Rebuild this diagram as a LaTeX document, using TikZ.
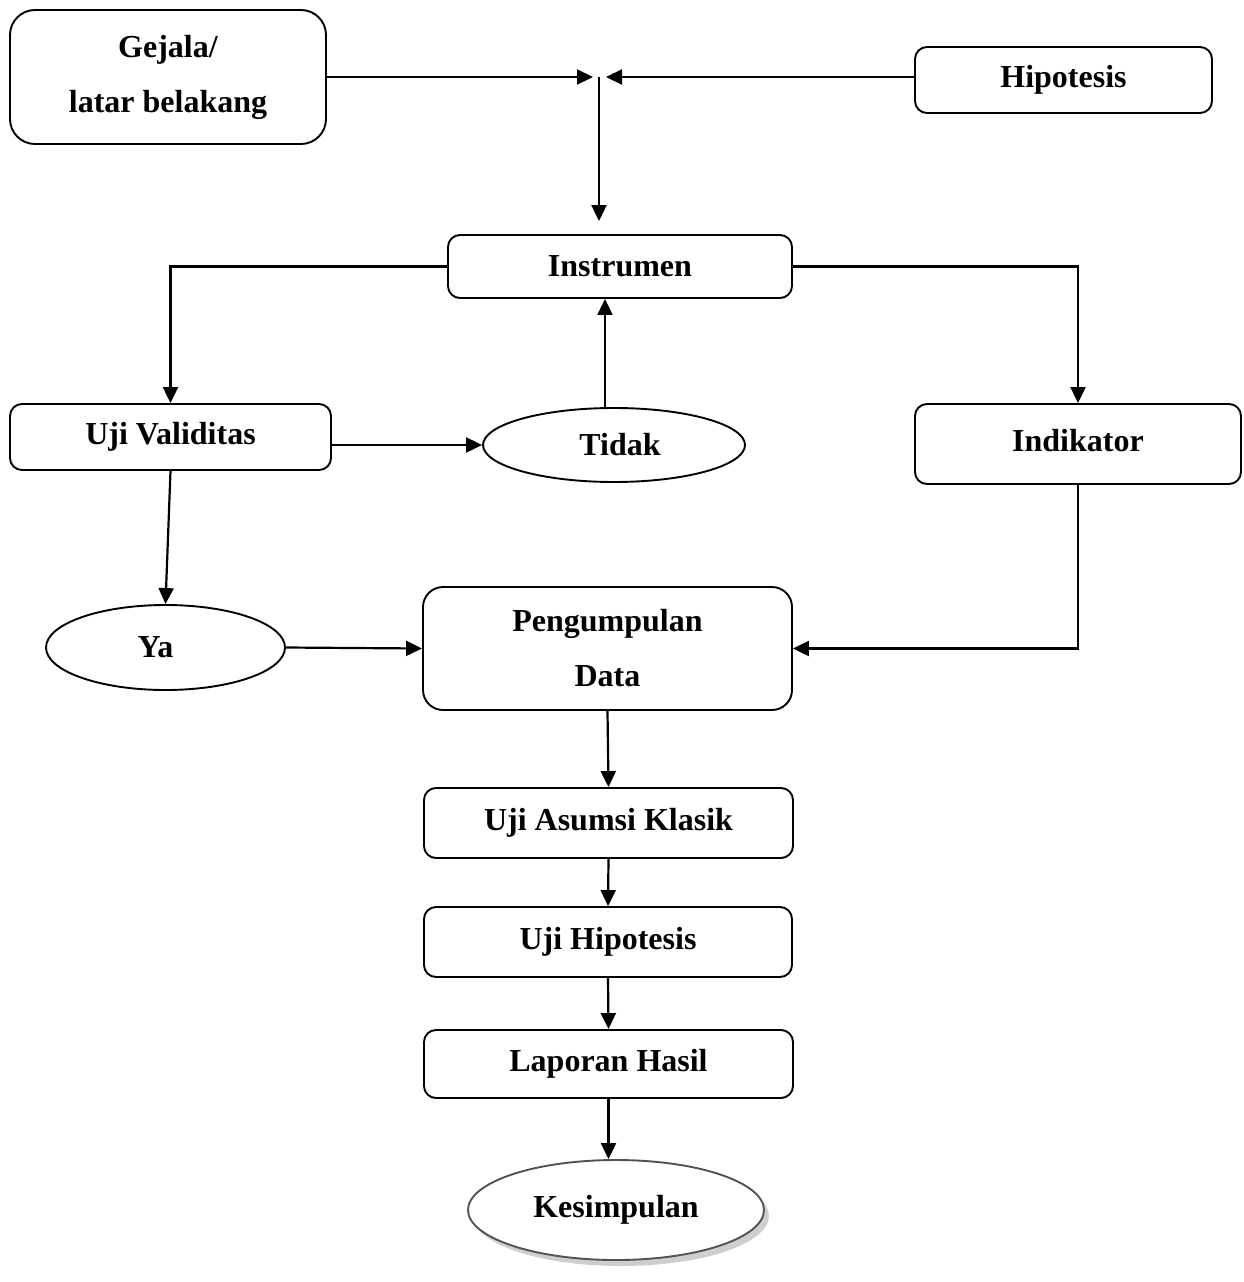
\documentclass[tikz,border=0pt]{standalone}
\usepackage{fontspec}
\setmainfont{Liberation Serif}
\usetikzlibrary{arrows.meta,shapes.geometric,shadows}
\begin{document}
\begin{tikzpicture}[x=1pt,y=-1pt,
  every node/.style={font=\fontsize{32}{55}\selectfont\bfseries, align=center, inner sep=0pt},
  box/.style={draw, line width=1.9pt, rounded corners=12pt, rectangle},
  oval/.style={draw, line width=1.9pt, ellipse},
  arr/.style={line width=2.2pt, -{Triangle[length=16pt,width=15pt]}},
  ln/.style={line width=2.2pt}]
\useasboundingbox (0,0) rectangle (1243,1282);
\node[box, rounded corners=25pt, minimum width=316pt, minimum height=134pt] (gej) at (168,77) {Gejala/\\latar belakang};
\node[box, minimum width=297pt, minimum height=66pt] (hip) at (1063.5,80) {Hipotesis};
\coordinate (J) at (599,77);
\node[box, minimum width=344pt, minimum height=63pt] (ins) at (620,266.5) {Instrumen};
\node[box, minimum width=321pt, minimum height=66pt] (uv) at (170.5,437) {Uji Validitas};
\node[oval, minimum width=262pt, minimum height=74pt] (tid) at (614,445) {\hspace*{12pt}Tidak};
\node[box, minimum width=326pt, minimum height=80pt] (ind) at (1078,444) {\raisebox{7pt}{Indikator}};
\node[oval, minimum width=239pt, minimum height=85pt] (ya) at (165.5,647.5) {Ya\hspace*{20pt}};
\node[box, rounded corners=20pt, minimum width=369pt, minimum height=123pt] (pd) at (607.5,648.5) {Pengumpulan\\Data};
\node[box, minimum width=369pt, minimum height=70pt] (ua) at (608.5,823) {Uji Asumsi Klasik};
\node[box, minimum width=368pt, minimum height=70pt] (uh) at (608,942) {Uji Hipotesis};
\node[box, minimum width=369pt, minimum height=68pt] (lh) at (608.5,1064) {Laporan Hasil};
\node[oval, draw=gray!65!black, fill=white, minimum width=296pt, minimum height=100pt,
  drop shadow={shadow xshift=5pt, shadow yshift=-6pt, fill=gray!70, opacity=0.55}] (kes) at (616,1210) {Kesimpulan};

\draw[arr] (gej.east |- J) -- ([xshift=-6pt]J);
\draw[arr] (hip.west |- J) -- ([xshift=7pt]J);
\draw[arr, shorten >=13pt] (J) -- (J |- ins.north);
\draw[arr] (ins.west) -| (uv.north);
\draw[arr] (ins.east) -| (ind.north);
\draw[arr] (uv.east |- tid.west) -- (tid.west);
\draw[arr] ([xshift=-9pt]tid.north) -- ([xshift=-9pt]tid.north |- ins.south);
\draw[arr] (ind.south) |- (pd.east);
\draw[arr] (uv.south) -- (ya.north);
\draw[arr] (ya.east) -- (pd.west);
\draw[arr] (pd.south) -- (ua.north);
\draw[arr] (ua.south) -- (uh.north);
\draw[arr] (uh.south) -- (lh.north);
\draw[arr] (lh.south) -- (lh.south |- kes.north);
\end{tikzpicture}
\end{document}
